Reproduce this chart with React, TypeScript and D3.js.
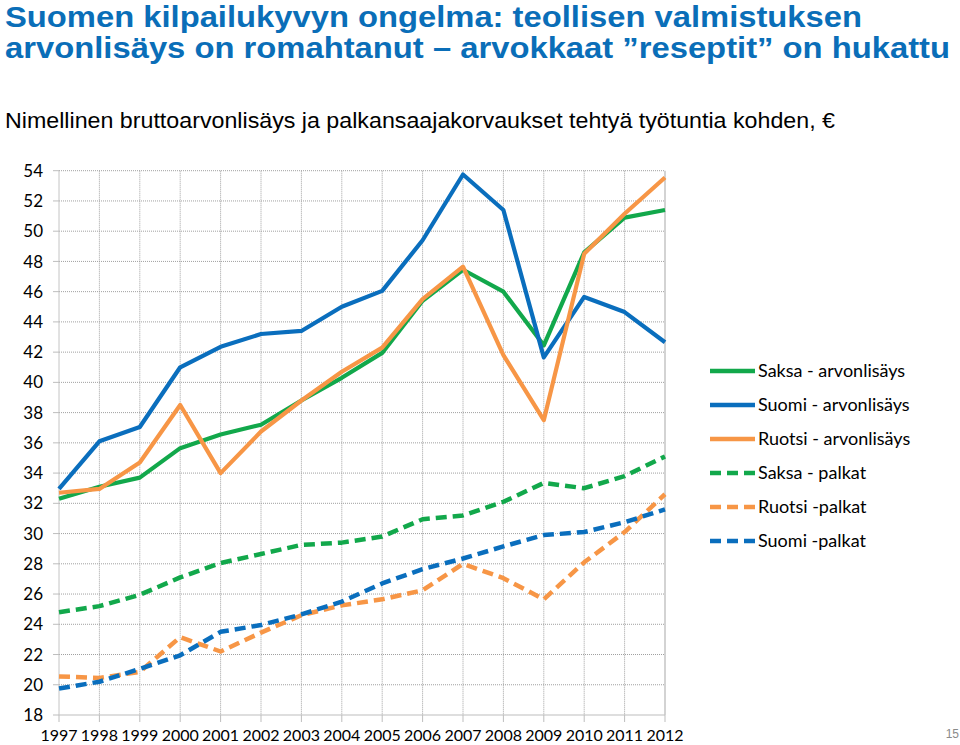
import React from "react";
import * as d3 from "d3";

const years = [1997, 1998, 1999, 2000, 2001, 2002, 2003, 2004, 2005, 2006, 2007, 2008, 2009, 2010, 2011, 2012];
const yTicks = [18, 20, 22, 24, 26, 28, 30, 32, 34, 36, 38, 40, 42, 44, 46, 48, 50, 52, 54];

const saksaArvo = [32.3, 33.1, 33.7, 35.65, 36.55, 37.2, 38.8, 40.3, 41.95, 45.4, 47.45, 46.0, 42.45, 48.6, 50.9, 51.4];
const suomiArvo = [32.95, 36.1, 37.05, 41.0, 42.35, 43.2, 43.4, 45.0, 46.05, 49.4, 53.75, 51.4, 41.65, 45.65, 44.65, 42.65];
const ruotsiArvo = [32.7, 32.95, 34.7, 38.5, 34.0, 36.75, 38.8, 40.7, 42.3, 45.5, 47.65, 41.8, 37.5, 48.5, 51.15, 53.55];
const saksaPalkat = [24.8, 25.2, 25.95, 27.1, 28.05, 28.65, 29.25, 29.4, 29.8, 30.95, 31.2, 32.1, 33.35, 33.0, 33.8, 35.1];
const ruotsiPalkat = [20.55, 20.45, 20.85, 23.15, 22.2, 23.45, 24.6, 25.25, 25.65, 26.25, 28.0, 27.05, 25.65, 28.1, 30.1, 32.6];
const suomiPalkat = [19.75, 20.2, 21.05, 21.95, 23.5, 23.95, 24.65, 25.5, 26.7, 27.65, 28.35, 29.15, 29.9, 30.1, 30.75, 31.6];

const seriesNames = ["Saksa - arvonlisäys", "Suomi - arvonlisäys", "Ruotsi - arvonlisäys", "Saksa - palkat", "Ruotsi -palkat", "Suomi -palkat"];
const seriesValues = [saksaArvo, suomiArvo, ruotsiArvo, saksaPalkat, ruotsiPalkat, suomiPalkat];
const seriesColors = ["#12A84B", "#0A6EBD", "#F79646", "#12A84B", "#F79646", "#0A6EBD"];
const seriesDashed = [false, false, false, true, true, true];

const titleLines = ["Suomen kilpailukyvyn ongelma: teollisen valmistuksen", "arvonlisäys on romahtanut – arvokkaat ”reseptit” on hukattu"];
const titleWidths = [857, 945];
const subtitle = "Nimellinen bruttoarvonlisäys ja palkansaajakorvaukset tehtyä työtuntia kohden, €";

export default function App() {
  const x = d3.scaleLinear().domain([1997, 2012]).range([59, 665]);
  const y = d3.scaleLinear().domain([18, 54]).range([715, 170.7]);
  const line = d3
    .line<number>()
    .x((_, i) => x(years[i]))
    .y((d) => y(d));

  const tickFont = "Lato, 'Open Sans', sans-serif";

  return (
    <svg
      width={960}
      height={745}
      style={{ position: "absolute", left: 0, top: 0, background: "#fff" }}
      xmlns="http://www.w3.org/2000/svg"
    >
      <rect x={0} y={0} width={960} height={745} fill="#fff" />
      {/* title */}
      {titleLines.map((t, i) => (
        <text
          key={i}
          x={5}
          y={27 + i * 31}
          fontFamily="'Liberation Sans', Arial, sans-serif"
          fontWeight="bold"
          fontSize={29}
          fill="#0A6EB8"
          textLength={titleWidths[i]}
          lengthAdjust="spacingAndGlyphs"
        >
          {t}
        </text>
      ))}
      <text
        x={5}
        y={128}
        fontFamily="'Liberation Sans', Arial, sans-serif"
        fontSize={22.5}
        fill="#000"
        textLength={830}
        lengthAdjust="spacingAndGlyphs"
      >
        {subtitle}
      </text>

      {/* grid */}
      {yTicks.map((t) => (
        <line
          key={"h" + t}
          x1={x(1997)}
          x2={x(2012)}
          y1={y(t)}
          y2={y(t)}
          stroke={t === 18 ? "#bdbdbd" : "#a0a0a0"}
          strokeWidth={1}
          strokeDasharray={t === 18 ? undefined : "1,1"}
        />
      ))}
      {years.map((yr) => (
        <line
          key={"v" + yr}
          x1={x(yr)}
          x2={x(yr)}
          y1={y(54)}
          y2={y(18)}
          stroke={yr === 1997 || yr === 2012 ? "#c4c4c4" : "#a0a0a0"}
          strokeWidth={yr === 2012 ? 1.5 : 1}
          strokeDasharray={yr === 1997 || yr === 2012 ? undefined : "1,1"}
        />
      ))}
      {/* ticks */}
      {yTicks.map((t) => (
        <line key={"yt" + t} x1={x(1997) - 6} x2={x(1997)} y1={y(t)} y2={y(t)} stroke="#bdbdbd" />
      ))}
      {years.map((yr) => (
        <line key={"xt" + yr} x1={x(yr)} x2={x(yr)} y1={y(18)} y2={y(18) + 7} stroke="#bdbdbd" />
      ))}
      {/* tick labels */}
      {yTicks.map((t) => (
        <text
          key={"yl" + t}
          x={43}
          y={y(t)}
          dy="0.36em"
          textAnchor="end"
          fontFamily={tickFont}
          fontSize={17}
          fill="#000"
        >
          {t}
        </text>
      ))}
      {years.map((yr) => (
        <text
          key={"xl" + yr}
          x={x(yr)}
          y={741}
          textAnchor="middle"
          fontFamily={tickFont}
          fontSize={16}
          fill="#000"
        >
          {yr}
        </text>
      ))}

      {/* series */}
      {seriesValues.map((vals, i) => (
        <path
          key={"s" + i}
          d={line(vals) || ""}
          fill="none"
          stroke={seriesColors[i]}
          strokeWidth={seriesDashed[i] ? 4.5 : 4.2}
          strokeDasharray={seriesDashed[i] ? "11,6" : undefined}
          strokeLinejoin="round"
        />
      ))}

      {/* legend */}
      {seriesNames.map((n, i) => {
        const ly = 371 + i * 34;
        return (
          <g key={"lg" + i}>
            <line
              x1={710}
              x2={755}
              y1={ly}
              y2={ly}
              stroke={seriesColors[i]}
              strokeWidth={4.5}
              strokeDasharray={seriesDashed[i] ? "11,6" : undefined}
            />
            <text x={758} y={ly} dy="0.35em" fontFamily={tickFont} fontSize={18} fill="#000">
              {n}
            </text>
          </g>
        );
      })}

      <text x={959} y={738} textAnchor="end" fontFamily="'Liberation Sans', Arial, sans-serif" fontSize={12} fill="#8a8a8a">
        15
      </text>
    </svg>
  );
}
